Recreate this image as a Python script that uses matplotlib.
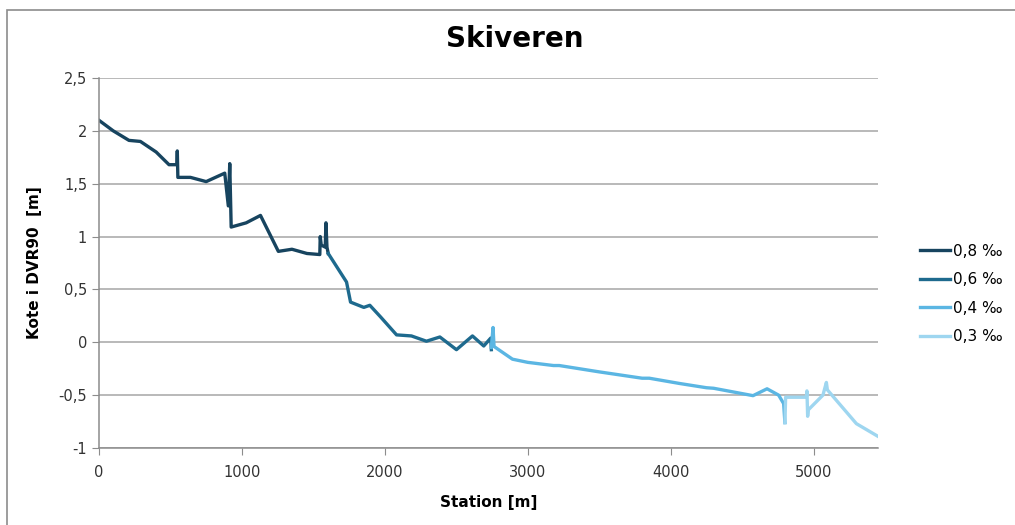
import matplotlib
matplotlib.use("Agg")
import matplotlib.pyplot as plt
from matplotlib.patches import Rectangle

# data (station [m], kote [m])
x_08 = [0, 100, 210, 290, 400, 490, 545, 548, 552, 640, 750, 880, 905, 915, 925,
        1030, 1130, 1255, 1350, 1455, 1545, 1548, 1555, 1583, 1588, 1595, 1604]
y_08 = [2.10, 2.00, 1.91, 1.90, 1.80, 1.68, 1.68, 1.81, 1.56, 1.56, 1.52, 1.60, 1.29, 1.69, 1.09,
        1.13, 1.20, 0.86, 0.88, 0.84, 0.83, 1.00, 0.92, 0.90, 1.13, 0.90, 0.84]

x_06 = [1604, 1732, 1760, 1853, 1895, 1970, 2082, 2186, 2291, 2385, 2501, 2613, 2692, 2741, 2745]
y_06 = [0.84, 0.57, 0.38, 0.33, 0.35, 0.24, 0.07, 0.06, 0.01, 0.05, -0.07, 0.06, -0.035, 0.04, -0.07]

x_04 = [2745, 2757, 2764, 2893, 3000, 3180, 3220, 3500, 3800, 3850, 4063, 4250, 4300,
        4576, 4674, 4755, 4790, 4799]
y_04 = [-0.05, 0.14, -0.04, -0.16, -0.19, -0.22, -0.22, -0.28, -0.34, -0.34, -0.39, -0.43, -0.435,
        -0.505, -0.44, -0.50, -0.58, -0.76]

x_03 = [4799, 4804, 4949, 4953, 4958, 4962, 5065, 5089, 5096, 5299, 5450]
y_03 = [-0.76, -0.52, -0.52, -0.46, -0.70, -0.64, -0.50, -0.38, -0.45, -0.77, -0.89]

labels = ['0,8 ‰', '0,6 ‰', '0,4 ‰', '0,3 ‰']
colors = ['#17445F', '#1E6A8E', '#5BB6E3', '#9ED6F0']

xticks = [0, 1000, 2000, 3000, 4000, 5000]
yticks = [-1, -0.5, 0, 0.5, 1, 1.5, 2, 2.5]
ytick_labels = ['-1', '-0,5', '0', '0,5', '1', '1,5', '2', '2,5']

plt.rcParams['font.family'] = ['DejaVu Sans']

fig = plt.figure(figsize=(10.15, 5.25), dpi=100)
ax = fig.add_axes([0.0975, 0.1467, 0.865 - 0.0975, 0.8514 - 0.1467])

# outer chart border
fig.patches.append(Rectangle((0.007, -0.05), 1.2, 1.031,
                             transform=fig.transFigure, fill=False,
                             edgecolor='#8c8c8c', linewidth=1.2))

for xs, ys, lab, c in zip([x_08, x_06, x_04, x_03], [y_08, y_06, y_04, y_03], labels, colors):
    ax.plot(xs, ys, color=c, linewidth=2.4, label=lab, solid_joinstyle='round')

ax.set_xlim(0, 5450)
ax.set_ylim(-1, 2.5)
ax.set_xticks(xticks)
ax.set_yticks(yticks)
ax.set_yticklabels(ytick_labels)
ax.grid(axis='y', color='#a6a6a6', linewidth=1.1)
ax.set_axisbelow(True)
for s in ['top', 'right']:
    ax.spines[s].set_visible(False)
for s in ['left', 'bottom']:
    ax.spines[s].set_color('#8c8c8c')
    ax.spines[s].set_linewidth(1.1)
ax.tick_params(axis='both', colors='#8c8c8c', labelcolor='#333333', labelsize=10.5,
               length=5, direction='out')
ax.tick_params(axis='x', pad=7)

ax.set_xlabel('Station [m]', fontsize=11, fontweight='bold', labelpad=11)
ax.set_ylabel('Kote i DVR90  [m]', fontsize=11, fontweight='bold', labelpad=12)
fig.suptitle('Skiveren', fontsize=20, fontweight='bold', x=0.507, y=0.953)

fig.legend(loc='center left', bbox_to_anchor=(0.906, 0.44), frameon=False,
           fontsize=11, handlelength=2.0, handletextpad=0.2, labelspacing=0.88,
           borderpad=0, borderaxespad=0)

fig.savefig('out.png', dpi=100)
